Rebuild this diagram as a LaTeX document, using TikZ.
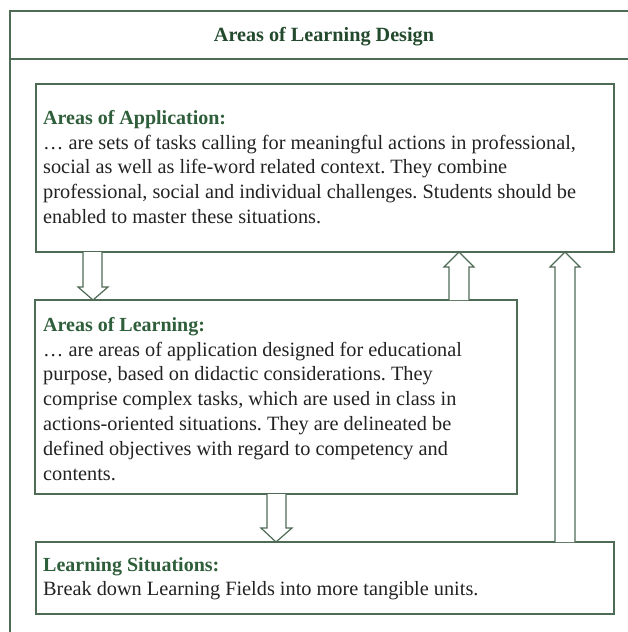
\documentclass[tikz,border=0pt]{standalone}
\usepackage{fontspec}
\setmainfont{Liberation Serif}
\definecolor{frame}{HTML}{4E6B56}
\definecolor{head}{HTML}{2F5E3B}
\definecolor{titlec}{HTML}{234A2D}
\definecolor{bodyc}{HTML}{222222}
\newcommand\hdtxt[1]{{\fontsize{20}{24.8}\selectfont\textcolor{head}{\bfseries #1}}}
\tikzset{
  x=1pt, y=-1pt,
  boxline/.style={draw=frame, line width=1.3pt},
  txt/.style={anchor=north west, inner sep=0pt, align=left, text=bodyc,
    font=\fontsize{20.3}{24.8}\selectfont\frenchspacing},
  arr/.style={draw=frame, line width=1.2pt, fill=white, line join=miter}
}
\begin{document}
\begin{tikzpicture}
\useasboundingbox (0,0) rectangle (628,632);
% outer frame
\coordinate (oTL) at (10,11);
\coordinate (oTR) at (628,11);
\coordinate (oBL) at (10,632);
\coordinate (hL) at (10,59);
\coordinate (hR) at (628,59);
\draw[boxline] (oTR) -- (oTL) -- (oBL);
\draw[boxline] (hL) -- (hR);
\node[text=titlec, font=\fontsize{20.2}{24}\selectfont\bfseries] (title) at (324,36.5) {Areas of Learning Design};

% boxes
\draw[boxline] (36,84) rectangle (614,252);
\draw[boxline] (35,300) rectangle (517,494);
\draw[boxline] (36,542) rectangle (614,614);

% arrows: down A->B
\draw[arr] (83,252) -- (83,287) -- (78,287) -- (93,300) -- (108,287) -- (102,287) -- (102,252);
% up B->A
\draw[arr] (449,300) -- (449,267) -- (444,267) -- (459,252) -- (474,267) -- (469,267) -- (469,300);
% up C->A
\draw[arr] (555,542) -- (555,267) -- (550,267) -- (565,252) -- (580,267) -- (575,267) -- (575,542);
% down B->C
\draw[arr] (267,494) -- (267,528) -- (261,528) -- (276,542) -- (292,528) -- (286,528) -- (286,494);

\node[txt] (ta) at (43,110) {\hdtxt{Areas of Application:}\\
… are sets of tasks calling for meaningful actions in professional,\\
social as well as life-word related context. They combine\\
professional, social and individual challenges. Students should be\\
enabled to master these situations.};

\node[txt] (tb) at (43,317) {\hdtxt{Areas of Learning:}\\
… are areas of application designed for educational\\
purpose, based on didactic considerations. They\\
comprise complex tasks, which are used in class in\\
actions-oriented situations. They are delineated be\\
defined objectives with regard to competency and\\
contents.};

\node[txt] (tc) at (43,557) {\hdtxt{Learning Situations:}\\
Break down Learning Fields into more tangible units.};
\end{tikzpicture}
\end{document}
